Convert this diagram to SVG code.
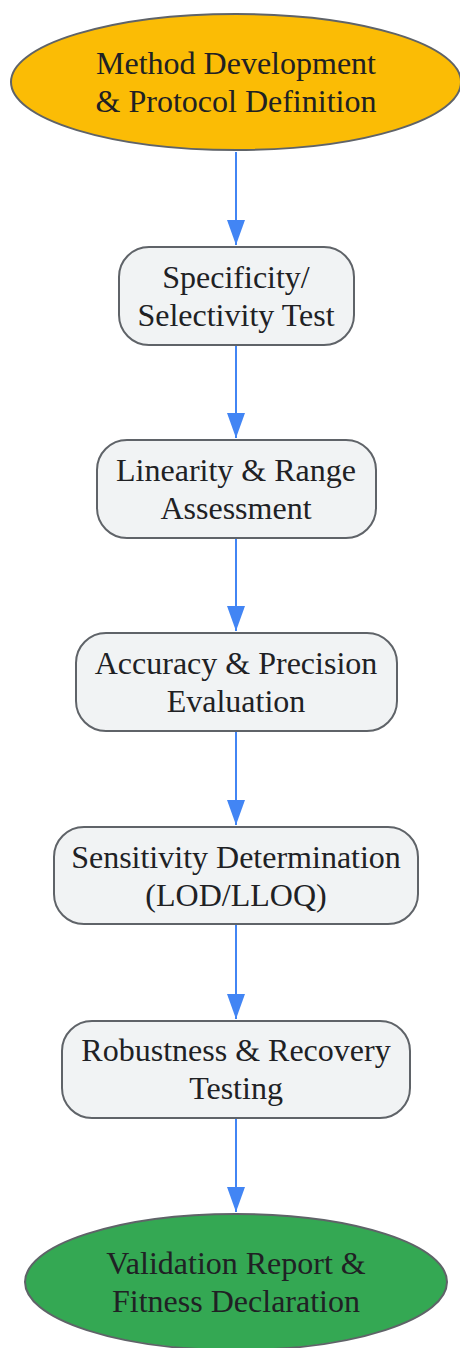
<svg xmlns="http://www.w3.org/2000/svg" width="460" height="1348" viewBox="0 0 460 1348">
<style>
.n{fill:#F1F3F4;stroke:#5F6368;stroke-width:2}
.t{font-family:"Liberation Serif","Times New Roman",serif;font-size:32px;fill:#202124;text-anchor:middle}
.e{stroke:#4285F4;stroke-width:2;fill:none}
</style>
<defs>
<marker id="ah" viewBox="0 0 25 18" refX="25" refY="9" markerWidth="25" markerHeight="18" orient="auto" markerUnits="userSpaceOnUse">
<path d="M0,0 L25,9 L0,18 Z" fill="#4285F4"/>
</marker>
</defs>
<rect width="460" height="1348" fill="#FFFFFF"/>
<g id="edges">
<path class="e" d="M236,152 V245" marker-end="url(#ah)"/>
<path class="e" d="M236,345 V438" marker-end="url(#ah)"/>
<path class="e" d="M236,538 V631" marker-end="url(#ah)"/>
<path class="e" d="M236,731 V825" marker-end="url(#ah)"/>
<path class="e" d="M236,924 V1019" marker-end="url(#ah)"/>
<path class="e" d="M236,1118 V1212" marker-end="url(#ah)"/>
</g>
<g id="start">
<ellipse cx="236" cy="82" rx="225" ry="68" fill="#FBBC05" stroke="#5F6368" stroke-width="2"/>
<text class="t" x="236" y="74">Method Development</text>
<text class="t" x="236" y="112">&amp; Protocol Definition</text>
</g>
<g id="specificity">
<rect class="n" x="119" y="247" width="235" height="98" rx="30"/>
<text class="t" x="236" y="288">Specificity/</text>
<text class="t" x="236" y="326">Selectivity Test</text>
</g>
<g id="linearity">
<rect class="n" x="97" y="440" width="279" height="98" rx="30"/>
<text class="t" x="236" y="481">Linearity &amp; Range</text>
<text class="t" x="236" y="519">Assessment</text>
</g>
<g id="accuracy">
<rect class="n" x="76" y="633" width="321" height="98" rx="30"/>
<text class="t" x="236" y="674">Accuracy &amp; Precision</text>
<text class="t" x="236" y="712">Evaluation</text>
</g>
<g id="sensitivity">
<rect class="n" x="54" y="827" width="364" height="97" rx="30"/>
<text class="t" x="236" y="868">Sensitivity Determination</text>
<text class="t" x="236" y="906">(LOD/LLOQ)</text>
</g>
<g id="robustness">
<rect class="n" x="62" y="1021" width="348" height="97" rx="30"/>
<text class="t" x="236" y="1061">Robustness &amp; Recovery</text>
<text class="t" x="236" y="1099">Testing</text>
</g>
<g id="end">
<ellipse cx="236" cy="1282" rx="211" ry="68" fill="#34A853" stroke="#5F6368" stroke-width="2"/>
<text class="t" x="236" y="1274">Validation Report &amp;</text>
<text class="t" x="236" y="1312">Fitness Declaration</text>
</g>
</svg>
